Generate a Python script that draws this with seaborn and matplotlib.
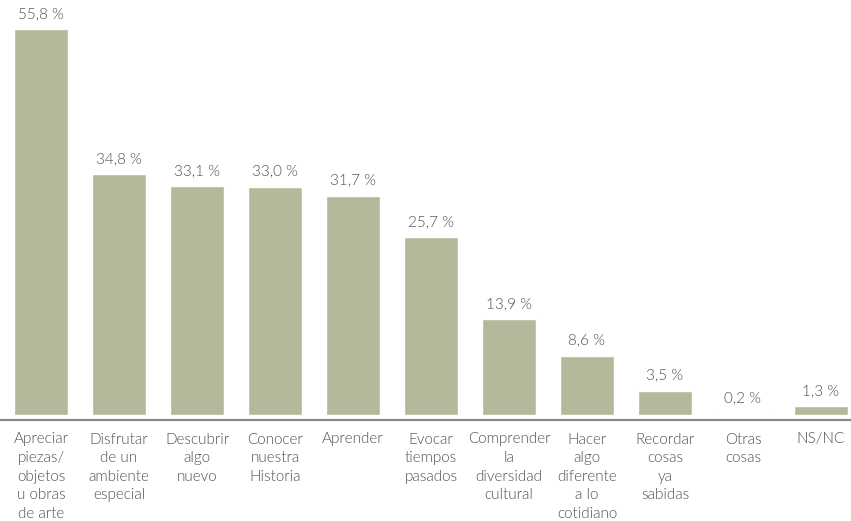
import seaborn as sns
import matplotlib.pyplot as plt
import pandas as pd

categories = [
    "Apreciar\npiezas/\nobjetos\nu obras\nde arte",
    "Disfrutar\nde un\nambiente\nespecial",
    "Descubrir\nalgo\nnuevo",
    "Conocer\nnuestra\nHistoria",
    "Aprender",
    "Evocar\ntiempos\npasados",
    "Comprender\nla\ndiversidad\ncultural",
    "Hacer\nalgo\ndiferente\na lo\ncotidiano",
    "Recordar\ncosas\nya\nsabidas",
    "Otras\ncosas",
    "NS/NC",
]
values = [55.8, 34.8, 33.1, 33.0, 31.7, 25.7, 13.9, 8.6, 3.5, 0.2, 1.3]

bar_color = "#b3b99a"
text_color = "#505050"

df = pd.DataFrame({"cat": categories, "val": values})

sns.set_style("white")
plt.rcParams["font.family"] = ["Lato", "DejaVu Sans"]

fig = plt.figure(figsize=(8.51, 5.21), dpi=100)
ax = fig.add_axes([0, 1 - 415 / 521, 1, 415 / 521])

sns.barplot(data=df, x="cat", y="val", color=bar_color, width=0.69,
            saturation=1, ax=ax)

for i, v in enumerate(values):
    ax.text(i, v + 1.2, f"{v:.1f} %".replace(".", ","), ha="center", va="bottom",
            fontsize=11, color=text_color, fontweight=300)

ax.set_xlim(-0.526, 10.385)
ax.set_ylim(0, 60)
ax.set_xlabel("")
ax.set_ylabel("")
ax.set_yticks([])
for s in ["top", "left", "right"]:
    ax.spines[s].set_visible(False)
ax.spines["bottom"].set_position(("outward", 3.6))
ax.spines["bottom"].set_color("#8a8a8a")
ax.spines["bottom"].set_linewidth(1.6)
ax.tick_params(axis="x", length=0, pad=9)
for lab in ax.get_xticklabels():
    lab.set_fontsize(11)
    lab.set_fontweight(300)
    lab.set_color(text_color)
    lab.set_linespacing(1.41)
    lab.set_verticalalignment("top")

fig.savefig("out.png", dpi=100)
